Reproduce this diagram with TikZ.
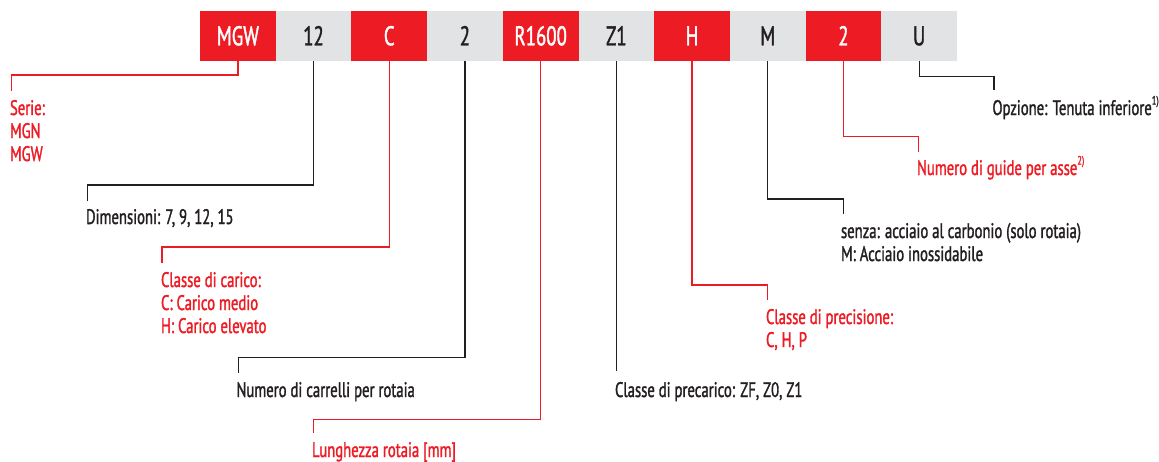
\documentclass[tikz,border=0pt]{standalone}
\usepackage{fontspec}
\setmainfont{PT Sans}[FakeStretch=0.70, FakeBold=1.4]
\definecolor{hred}{HTML}{ED1C24}
\definecolor{hgray}{HTML}{E2E3E4}
\definecolor{htext}{HTML}{231F20}
\tikzset{
  codebox/.style={minimum width=75.7pt, minimum height=50pt, inner sep=0pt, outer sep=0pt,
    font=\fontsize{27}{30}\selectfont, text height=18.5pt, text depth=0pt},
  redbox/.style={codebox, fill=hred, text=white},
  graybox/.style={codebox, fill=hgray, text=htext},
  lab/.style={inner sep=0pt, outer sep=0pt, align=left, anchor=base west,
    font=\fontsize{21}{23}\selectfont},
  redlab/.style={lab, text=hred},
  blacklab/.style={lab, text=htext},
  redline/.style={draw=hred, line width=1.3pt},
  blackline/.style={draw=htext, line width=1.3pt},
}
\newcommand{\fnmark}[1]{\raisebox{0.5em}{\fontsize{12}{13}\selectfont #1)}}
\begin{document}
\begin{tikzpicture}[x=1pt, y=-1pt]
\useasboundingbox (0,0) rectangle (1159,461);
% code bar
\node[redbox]  (b1)  at (237.85,36) {MGW};
\node[graybox] (b2)  at (313.55,36) {12};
\node[redbox]  (b3)  at (389.25,36) {C};
\node[graybox] (b4)  at (464.95,36) {2};
\node[redbox]  (b5)  at (540.65,36) {R1600};
\node[graybox] (b6)  at (616.35,36) {Z1};
\node[redbox]  (b7)  at (692.05,36) {H};
\node[graybox] (b8)  at (767.75,36) {M};
\node[redbox]  (b9)  at (843.45,36) {2};
\node[graybox] (b10) at (919.15,36) {U};
% labels (anchor = baseline of the last line)
\node[redlab]   (l1)  at (10,161)  {Serie:\\MGN\\MGW};
\node[blacklab] (l2)  at (86,224)  {Dimensioni: 7, 9, 12, 15};
\node[redlab]   (l3)  at (161,333) {Classe di carico:\\C: Carico medio\\H: Carico elevato};
\node[blacklab] (l4)  at (236.5,397) {Numero di carrelli per rotaia};
\node[redlab]   (l5)  at (312,457) {Lunghezza rotaia [mm]};
\node[blacklab] (l6)  at (615,397) {Classe di precarico: ZF, Z0, Z1};
\node[redlab]   (l7)  at (766,347) {Classe di precisione:\\C, H, P};
\node[blacklab] (l8)  at (841,261) {senza: acciaio al carbonio (solo rotaia)\\M: Acciaio inossidabile};
\node[redlab]   (l9)  at (917,175) {Numero di guide per asse\fnmark{2}};
\node[blacklab] (l10) at (992.5,115) {Opzione: Tenuta inferiore\fnmark{1}};
% leader bends and ends
\coordinate (k1) at (11.7,75);   \coordinate (e1) at (11.7,90.5);
\coordinate (k2) at (87.5,185);  \coordinate (e2) at (87.5,200.5);
\coordinate (k3) at (162,247);   \coordinate (e3) at (162,263);
\coordinate (k4) at (238.3,357.3); \coordinate (e4) at (238.3,372.7);
\coordinate (k5) at (313.3,419.3); \coordinate (e5) at (313.3,433.3);
\coordinate (e6) at (616.35,370.7);
\coordinate (k7) at (767.3,285);  \coordinate (e7) at (767.3,300);
\coordinate (k8) at (843.3,199);  \coordinate (e8) at (843.3,214);
\coordinate (k9) at (918.7,136.5);  \coordinate (e9) at (918.7,152.3);
\coordinate (k10) at (994,76.7); \coordinate (e10) at (994,90.3);
% connectors
\draw[redline]   (b1.south) |- (k1) -- (e1);
\draw[blackline] (b2.south) |- (k2) -- (e2);
\draw[redline]   (b3.south) |- (k3) -- (e3);
\draw[blackline] (b4.south) |- (k4) -- (e4);
\draw[redline]   (b5.south) |- (k5) -- (e5);
\draw[blackline] (b6.south) -- (e6);
\draw[redline]   (b7.south) |- (k7) -- (e7);
\draw[blackline] (b8.south) |- (k8) -- (e8);
\draw[redline]   (b9.south) |- (k9) -- (e9);
\draw[blackline] (b10.south) |- (k10) -- (e10);
\end{tikzpicture}
\end{document}
